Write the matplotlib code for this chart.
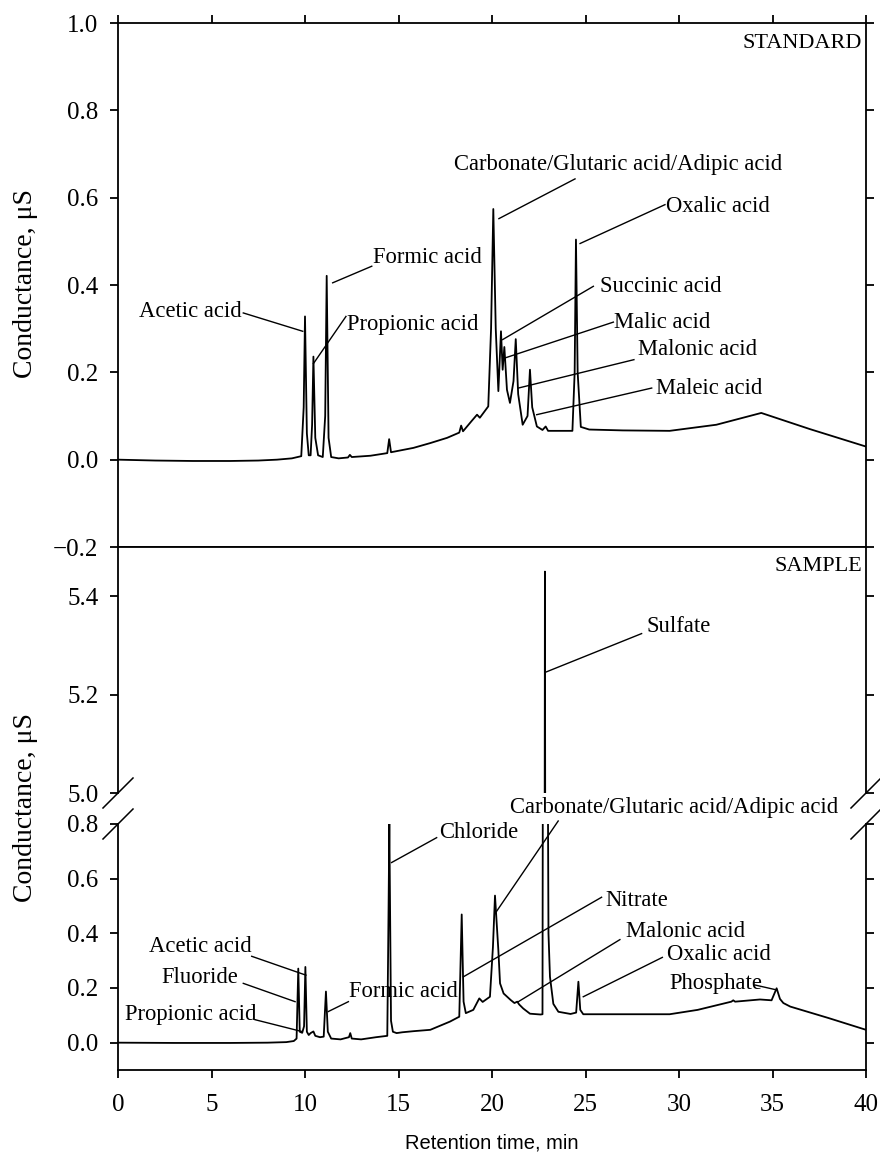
import matplotlib
matplotlib.use("Agg")
import matplotlib.pyplot as plt

plt.rcParams['font.family'] = ['Liberation Serif', 'DejaVu Serif']

# ---- STANDARD chromatogram (retention time, min / conductance, uS)
std_time = [0, 2, 4, 6, 7.5, 8.5, 9.3, 9.8, 9.93, 10.0, 10.1, 10.2, 10.3, 10.38, 10.45,
            10.55, 10.7, 10.95, 11.08, 11.16, 11.26, 11.4, 11.8, 12.3, 12.4, 12.5, 13.5,
            14.4, 14.5, 14.6, 15.8, 16.7, 17.6, 18.25, 18.35, 18.45, 18.9, 19.2, 19.35,
            19.8, 19.95, 20.07, 20.2, 20.34, 20.48, 20.57, 20.66, 20.8, 20.96, 21.15,
            21.27, 21.4, 21.64, 21.9, 22.03, 22.15, 22.4, 22.7, 22.87, 23.0, 23.5, 24.3,
            24.42, 24.49, 24.58, 24.75, 25.2, 27, 29.5, 32, 34.4, 37, 40]
std_cond = [0.0, -0.002, -0.003, -0.003, -0.002, 0.0, 0.003, 0.008, 0.12, 0.328, 0.06,
            0.01, 0.01, 0.08, 0.236, 0.05, 0.01, 0.006, 0.1, 0.421, 0.05, 0.006, 0.003,
            0.005, 0.011, 0.006, 0.009, 0.015, 0.047, 0.017, 0.027, 0.038, 0.05, 0.062,
            0.078, 0.065, 0.088, 0.103, 0.096, 0.122, 0.3, 0.574, 0.3, 0.157, 0.294,
            0.206, 0.258, 0.16, 0.13, 0.18, 0.276, 0.15, 0.08, 0.1, 0.206, 0.12, 0.076,
            0.068, 0.076, 0.066, 0.066, 0.066, 0.2, 0.504, 0.2, 0.075, 0.069, 0.067,
            0.066, 0.08, 0.107, 0.07, 0.030]

# ---- SAMPLE chromatogram
smp_time = [0, 3, 6, 8, 9.0, 9.4, 9.55, 9.64, 9.72, 9.85, 9.95, 10.02, 10.1, 10.2, 10.3,
            10.45, 10.55, 10.8, 11.0, 11.12, 11.22, 11.4, 11.9, 12.35, 12.42, 12.5, 13.0,
            13.8, 14.4, 14.47, 14.51, 14.56, 14.6, 14.7, 14.9, 15.2, 15.8, 16.7, 17.75,
            18.25, 18.38, 18.48, 18.6, 19.0, 19.32, 19.5, 19.89, 20.05, 20.16, 20.34,
            20.43, 20.62, 21.0, 21.2, 21.35, 21.45, 21.67, 22.03, 22.6, 22.7, 22.74,
            22.83, 22.92, 22.99, 23.02, 23.1, 23.28, 23.55, 24.2, 24.5, 24.62, 24.72,
            24.88, 26, 29.5, 31, 32.8, 32.9, 33.0, 34.33, 34.95, 35.22, 35.4, 35.58,
            35.95, 38, 40]
smp_cond = [0.0, -0.001, -0.001, 0.0, 0.002, 0.006, 0.015, 0.271, 0.04, 0.036, 0.06,
            0.277, 0.04, 0.028, 0.035, 0.041, 0.025, 0.02, 0.022, 0.187, 0.04, 0.015,
            0.012, 0.02, 0.035, 0.015, 0.012, 0.02, 0.025, 0.5, 0.80, 0.4, 0.08, 0.04,
            0.035, 0.038, 0.042, 0.047, 0.077, 0.095, 0.469, 0.15, 0.108, 0.12, 0.162,
            0.149, 0.168, 0.35, 0.538, 0.338, 0.217, 0.18, 0.156, 0.145, 0.150, 0.14,
            0.125, 0.106, 0.103, 0.104, 2.0, 5.45, 2.5, 0.9, 0.4, 0.241, 0.142, 0.113,
            0.105, 0.11, 0.223, 0.12, 0.104, 0.104, 0.104, 0.12, 0.150, 0.155, 0.150,
            0.158, 0.155, 0.199, 0.16, 0.145, 0.132, 0.09, 0.047]

# ---- peak labels: name, text anchor (t, v), alignment, leader start, leader end
std_names = ["Acetic acid", "Propionic acid", "Formic acid",
             "Carbonate/Glutaric acid/Adipic acid", "Oxalic acid", "Succinic acid",
             "Malic acid", "Malonic acid", "Maleic acid"]
std_text_xy = [(6.63, 0.339), (12.23, 0.309), (13.63, 0.462), (17.97, 0.676),
               (29.3, 0.58), (25.78, 0.397), (26.52, 0.315), (27.81, 0.252), (28.75, 0.162)]
std_text_ha = ["right", "left", "left", "left", "left", "left", "left", "left", "left"]
std_line_from = [(6.70, 0.336), (12.19, 0.328), (13.57, 0.443), (24.44, 0.643),
                 (29.25, 0.584), (25.42, 0.397), (26.49, 0.315), (27.59, 0.229), (28.54, 0.164)]
std_line_to = [(9.88, 0.294), (10.45, 0.22), (11.48, 0.405), (20.37, 0.552),
               (24.71, 0.495), (20.57, 0.275), (20.70, 0.233), (21.41, 0.164), (22.39, 0.103)]

smp_names = ["Acetic acid", "Fluoride", "Propionic acid", "Formic acid", "Chloride",
             "Carbonate/Glutaric acid/Adipic acid", "Nitrate", "Malonic acid",
             "Oxalic acid", "Phosphate"]
smp_text_xy = [(7.15, 0.350), (6.42, 0.238), (7.42, 0.102), (12.37, 0.187), (17.17, 0.768),
               (20.96, 0.862), (26.04, 0.52), (27.15, 0.405), (29.37, 0.324), (29.48, 0.217)]
smp_text_ha = ["right", "right", "right", "left", "left", "left", "left", "left", "left", "left"]
smp_line_from = [(7.15, 0.316), (6.70, 0.217), (7.33, 0.084), (12.32, 0.150), (17.04, 0.750),
                 (23.54, 0.811), (25.86, 0.532), (26.84, 0.377), (29.11, 0.312), (34.06, 0.211)]
smp_line_to = [(10.05, 0.247), (9.47, 0.150), (9.82, 0.041), (11.25, 0.114), (14.63, 0.659),
               (20.16, 0.472), (18.47, 0.241), (21.41, 0.150), (24.88, 0.168), (35.22, 0.193)]

sulfate_text_xy = (28.27, 5.339)
sulfate_line = [(28.0, 5.324), (22.83, 5.245)]

x_ticks = [0, 5, 10, 15, 20, 25, 30, 35, 40]
std_yticks = [-0.2, 0.0, 0.2, 0.4, 0.6, 0.8, 1.0]
up_yticks = [5.0, 5.2, 5.4]
low_yticks = [0.0, 0.2, 0.4, 0.6, 0.8]

W, H = 880, 1154
fig = plt.figure(figsize=(W / 100, H / 100), dpi=100)
L, R = 118 / W, 866 / W


def box(top_px, bot_px):
    return [L, 1 - bot_px / H, R - L, (bot_px - top_px) / H]


ax_std = fig.add_axes(box(23, 547))
ax_up = fig.add_axes(box(547, 793))
ax_low = fig.add_axes(box(824, 1070))

LW_AX = 1.3
LW_CURVE = 1.3
LW_LEAD = 1.0
for ax in (ax_std, ax_up, ax_low):
    ax.set_xlim(0, 40)
    ax.set_xticks(x_ticks)
    for s in ax.spines.values():
        s.set_linewidth(LW_AX)
    ax.tick_params(direction='out', length=6, width=LW_AX, labelsize=18, pad=8,
                   right=True, colors='black')

# top panel
ax_std.plot(std_time, std_cond, color='black', lw=LW_CURVE)
ax_std.set_ylim(-0.2, 1.0)
ax_std.set_yticks(std_yticks)
ax_std.set_yticklabels(['\u22120.2', '0.0', '0.2', '0.4', '0.6', '0.8', '1.0'])
ax_std.tick_params(axis='x', top=True, bottom=False, labelbottom=False)
ax_std.text(0.995, 0.96, "STANDARD", transform=ax_std.transAxes, ha='right', va='center',
            fontsize=16)
for name, (tx, ty), ha, p0, p1 in zip(std_names, std_text_xy, std_text_ha,
                                     std_line_from, std_line_to):
    ax_std.text(tx, ty, name, ha=ha, va='center', fontsize=16.3)
    ax_std.plot([p0[0], p1[0]], [p0[1], p1[1]], color='black', lw=LW_LEAD)

# bottom panel, broken axis
for ax in (ax_up, ax_low):
    ax.plot(smp_time, smp_cond, color='black', lw=LW_CURVE)
ax_up.set_ylim(5.0, 5.5)
ax_up.set_yticks(up_yticks)
ax_up.set_yticklabels(['5.0', '5.2', '5.4'])
ax_up.spines['bottom'].set_visible(False)
ax_up.tick_params(axis='x', bottom=False, labelbottom=False)
ax_up.text(0.995, 0.92, "SAMPLE", transform=ax_up.transAxes, ha='right', va='center',
           fontsize=16)
ax_up.text(sulfate_text_xy[0], sulfate_text_xy[1], "Sulfate", ha='left', va='center',
           fontsize=16.3)
ax_up.plot([sulfate_line[0][0], sulfate_line[1][0]], [sulfate_line[0][1], sulfate_line[1][1]],
           color='black', lw=LW_LEAD)

ax_low.set_ylim(-0.1, 0.8)
ax_low.set_yticks(low_yticks)
ax_low.set_yticklabels(['0.0', '0.2', '0.4', '0.6', '0.8'])
ax_low.spines['top'].set_visible(False)
ax_low.tick_params(axis='x', top=False, pad=11)
for name, (tx, ty), ha, p0, p1 in zip(smp_names, smp_text_xy, smp_text_ha,
                                     smp_line_from, smp_line_to):
    ax_low.text(tx, ty, name, ha=ha, va='center', fontsize=16.3, clip_on=False)
    ax_low.plot([p0[0], p1[0]], [p0[1], p1[1]], color='black', lw=LW_LEAD, clip_on=False)

# break marks
for ax, yb, hpx in ((ax_up, 0.0, 246), (ax_low, 1.0, 246)):
    dx, dy = 15 / 748, 15 / hpx
    for xb in (0.0, 1.0):
        ax.plot([xb - dx, xb + dx], [yb - dy, yb + dy], transform=ax.transAxes,
                color='black', lw=1.1, clip_on=False)

fig.text(25 / W, 1 - 284 / H, "Conductance, \u03bcS", rotation=90, ha='center', va='center',
         fontsize=20)
fig.text(25 / W, 1 - 808 / H, "Conductance, \u03bcS", rotation=90, ha='center', va='center',
         fontsize=20)
fig.text(492 / W, 1 - 1143 / H, "Retention time, min", ha='center', va='center',
         fontsize=14.5, family=['Liberation Sans', 'DejaVu Sans'])

fig.savefig("out.png", dpi=100, facecolor='white')
